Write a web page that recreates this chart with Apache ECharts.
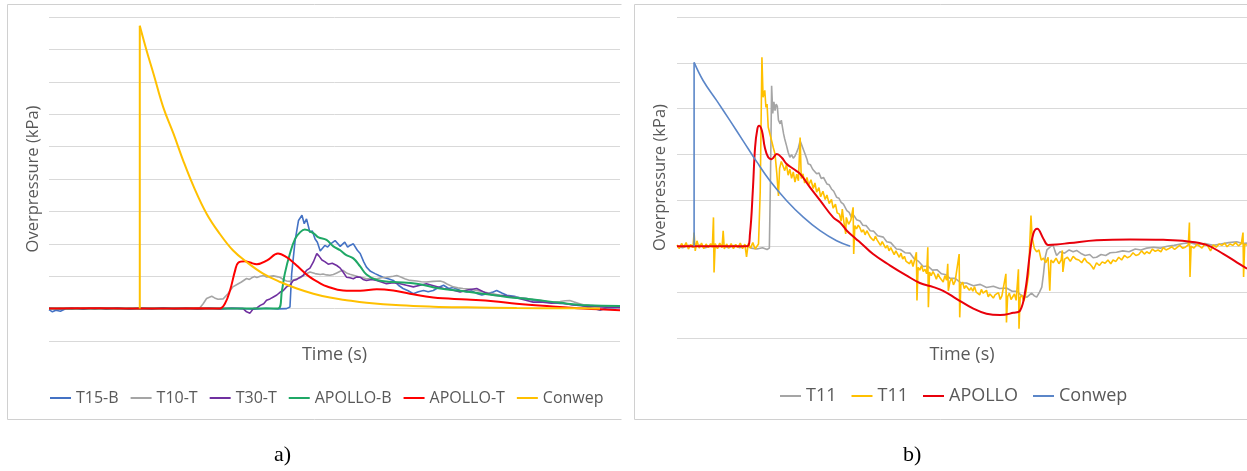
<!DOCTYPE html>
<html>
<head>
<meta charset="utf-8">
<title>Overpressure histories</title>
<script src="https://cdn.jsdelivr.net/npm/echarts@6/dist/echarts.min.js"></script>
<style>
  html, body { margin: 0; padding: 0; background: #ffffff; }
  #chart { width: 1247px; height: 471px; }
</style>
</head>
<body>
<div id="chart"></div>
<script>
// ---- Panel a): time [arbitrary units 0-100], overpressure [gridline units] ----
const t15B = [[0,-0.03],[0.6,-0.1],[1.2,-0.05],[2,-0.08],[3,0.0],[4,-0.02],[5,0.01],[6,-0.02],[7,0.02],[8,0.0],[9,0.02],[10,-0.01],[12,0.01],[14,-0.01],[16,0.01],[18,0.0],[20,0.02],[22,-0.01],[24,0.01],[26,-0.01],[28,0.01],[30,-0.01],[32,0.01],[34,0.0],[36,-0.02],[38,0.01],[40,-0.01],[41.6,0.0],[42.2,0.05],[42.5,1.08],[43.1,2.1],[43.7,2.72],[44.3,2.88],[44.7,2.62],[45.1,2.77],[45.7,2.35],[46.1,2.4],[46.6,2.15],[47.0,2.05],[47.5,1.78],[48.3,1.95],[48.8,1.9],[49.2,1.98],[50.1,2.1],[51.0,1.92],[51.8,2.05],[52.3,1.9],[52.7,1.95],[53.3,2.0],[54.0,1.8],[54.5,1.7],[55.1,1.45],[55.6,1.28],[56.3,1.15],[57.1,1.08],[57.8,1.02],[58.5,0.97],[59.4,0.92],[60.3,0.87],[61.2,0.72],[62.0,0.62],[62.9,0.55],[63.8,0.46],[64.7,0.52],[65.6,0.56],[66.4,0.52],[67.3,0.56],[68.2,0.65],[69.1,0.72],[70.0,0.62],[70.8,0.65],[72.0,0.56],[73.2,0.51],[74.0,0.55],[74.9,0.47],[75.8,0.42],[76.7,0.46],[77.6,0.5],[78.4,0.56],[79.3,0.48],[80.2,0.41],[81.5,0.38],[82.6,0.33],[83.7,0.31],[84.8,0.26],[86.0,0.23],[87.2,0.2],[88.4,0.18],[89.5,0.16],[90.6,0.15],[91.8,0.12],[93.0,0.12],[94.2,0.05],[95.4,0.0],[96.5,-0.05],[97.6,0.02],[98.8,0.03],[100,0.05]];

const t10T = [[0,0.0],[2,0.01],[4,-0.01],[6,0.01],[8,0.0],[10,0.01],[12,-0.01],[14,0.01],[16,0.0],[18,0.01],[20,-0.01],[22,0.01],[24,0.0],[26.4,0.02],[27.0,0.15],[27.6,0.31],[28.5,0.38],[29.0,0.33],[29.6,0.29],[30.5,0.3],[31.3,0.45],[32.2,0.67],[33.0,0.75],[33.7,0.82],[34.6,0.93],[35.1,0.9],[35.5,0.95],[36.0,0.99],[36.4,0.96],[37.0,1.0],[37.6,1.02],[38.1,0.97],[38.7,1.0],[39.3,1.01],[40.1,0.98],[40.5,0.96],[41.0,0.9],[41.6,0.85],[42.2,0.84],[42.8,0.88],[43.4,0.92],[44.0,0.95],[44.8,1.05],[45.7,1.13],[46.6,1.08],[47.5,1.05],[48.0,1.07],[48.6,1.04],[49.2,1.03],[49.8,1.05],[50.4,1.1],[51.0,1.15],[51.5,1.18],[52.1,1.1],[52.7,1.06],[53.3,1.03],[54.5,0.97],[55.0,0.95],[55.6,0.92],[56.5,0.93],[57.4,0.92],[58.2,0.95],[59.1,0.97],[60.3,1.0],[60.9,1.02],[61.5,0.98],[62.3,0.92],[63.2,0.87],[64.4,0.85],[65.2,0.83],[66.1,0.82],[67.3,0.84],[68.5,0.85],[69.1,0.82],[69.7,0.76],[70.8,0.67],[71.6,0.64],[72.5,0.62],[73.7,0.6],[74.9,0.56],[76.0,0.52],[77.0,0.48],[78.0,0.45],[79.0,0.41],[80.2,0.38],[81.3,0.36],[82.5,0.33],[83.7,0.31],[84.8,0.28],[86.0,0.26],[87.2,0.22],[88.3,0.2],[89.5,0.22],[90.4,0.24],[91.2,0.25],[92.0,0.2],[92.8,0.16],[93.6,0.12],[94.7,0.1],[95.6,0.09],[96.5,0.08],[97.4,0.07],[98.2,0.06],[99.1,0.05],[100,0.05]];

const t30T = [[0,0.01],[2,-0.01],[4,0.02],[6,-0.01],[8,0.01],[10,0.0],[12,0.02],[14,-0.01],[16,0.01],[18,-0.01],[20,0.02],[22,0.0],[24,0.01],[26,-0.01],[28,0.01],[30,0.0],[32,0.01],[34.0,0.0],[34.6,-0.1],[35.2,-0.14],[35.8,0.0],[36.4,0.02],[37.0,0.1],[37.6,0.15],[38.1,0.26],[38.7,0.3],[39.3,0.36],[39.9,0.42],[40.5,0.51],[41.0,0.55],[41.6,0.67],[42.2,0.72],[42.8,0.87],[43.4,0.9],[44.0,0.97],[44.5,1.02],[45.1,1.18],[45.7,1.25],[46.3,1.44],[46.9,1.7],[47.3,1.62],[47.8,1.5],[48.3,1.45],[48.9,1.37],[49.6,1.4],[50.4,1.33],[51.0,1.25],[51.5,1.13],[52.1,0.97],[52.7,0.95],[53.3,0.92],[53.9,0.98],[54.5,0.97],[55.0,0.9],[55.6,0.87],[56.5,0.9],[57.4,0.87],[58.2,0.82],[59.1,0.77],[60.3,0.8],[61.5,0.77],[62.6,0.72],[63.8,0.67],[65.0,0.72],[66.1,0.77],[67.5,0.7],[69.1,0.62],[70.5,0.58],[72.0,0.51],[73.5,0.58],[74.9,0.62],[76.3,0.5],[77.8,0.41],[79.5,0.4],[81.3,0.36],[83.0,0.28],[84.8,0.2],[86.5,0.2],[88.0,0.17],[89.5,0.18],[91.5,0.12],[93.6,0.08],[95.5,0.06],[97.8,0.04],[100,0.03]];

const apolloB = [[0,0],[10,0],[20,0],[30,0],[35,0],[40.1,0],[40.8,0.56],[41.3,1.08],[42.2,1.7],[43.1,2.15],[44.0,2.36],[44.8,2.44],[46.3,2.33],[47.2,2.2],[48.6,2.12],[49.8,1.92],[51.0,1.8],[52.0,1.66],[53.3,1.55],[54.5,1.3],[55.6,1.05],[57.4,0.88],[60.3,0.82],[64.4,0.77],[68.5,0.62],[72.0,0.55],[76.0,0.46],[80.2,0.36],[84.8,0.28],[89.5,0.18],[94.2,0.1],[100,0.08]];

const apolloT = [[0,0],[8.9,0.01],[17.5,0],[26.4,0.01],[29.9,0],[30.8,0.15],[31.7,0.56],[32.6,1.18],[33.1,1.41],[34.3,1.46],[35.2,1.42],[36.4,1.37],[38.2,1.49],[40.1,1.7],[41.6,1.59],[43.1,1.38],[44.0,1.23],[45.7,0.97],[47.5,0.78],[48.6,0.69],[51.5,0.56],[54.5,0.55],[57.4,0.6],[60.3,0.56],[63.2,0.46],[67.3,0.34],[73.2,0.28],[77.8,0.23],[81.9,0.15],[87.7,0.07],[93.6,0.0],[100,-0.05]];

// Conwep: instantaneous rise, then the decay branch
const conwepARise = [[15.9,0],[15.9,8.73]];
const conwepADecay = [[15.9,8.73],[17.1,7.96],[18.3,7.25],[20.0,6.22],[21.8,5.4],[23.5,4.57],[25.3,3.78],[27.6,2.93],[29.9,2.31],[32.2,1.8],[34.6,1.44],[37.5,1.08],[40.5,0.82],[43.4,0.62],[46.3,0.46],[49.2,0.34],[52.1,0.26],[55.6,0.18],[61.5,0.1],[67.3,0.06],[73.2,0.04],[81.9,0.02],[90.7,0.01],[96.5,0.0]];

// ---- Panel b): time [arbitrary units 0-100], overpressure [gridline units] ----
const t11GrayB = [[0,0.0],[1,-0.03],[2,0.02],[3,-0.02],[4,0.03],[5,-0.03],[6,0.02],[7,-0.02],[8,0.03],[9,-0.03],[10,0.02],[11,-0.03],[12,0.02],[13,-0.04],[14,-0.06],[15,-0.03],[15.8,-0.07],[16.2,-0.04],[16.4,1.5],[16.6,3.5],[16.8,2.9],[17.0,3.15],[17.2,2.96],[17.4,3.1],[17.6,3.05],[17.8,2.75],[18.1,2.67],[18.3,2.75],[18.5,2.6],[18.7,2.45],[18.9,2.34],[19.2,2.2],[19.5,2.05],[19.8,1.94],[20.1,2.0],[20.4,1.92],[20.7,1.97],[21.0,2.05],[21.3,2.15],[21.6,2.3],[21.9,2.2],[22.2,2.1],[22.5,2.0],[22.8,1.9],[23.0,1.8],[23.4,1.78],[23.8,1.68],[24.1,1.72],[24.5,1.58],[24.9,1.6],[25.3,1.48],[25.7,1.5],[26.3,1.36],[26.7,1.34],[27.1,1.25],[27.5,1.2],[28.0,1.07],[28.4,1.05],[28.8,0.96],[29.2,0.92],[29.8,0.78],[30.2,0.74],[30.6,0.63],[31.0,0.68],[31.5,0.58],[32.1,0.55],[32.6,0.46],[33.2,0.45],[33.9,0.34],[34.5,0.33],[35.2,0.23],[36.2,0.2],[36.8,0.1],[37.5,0.08],[38.5,-0.06],[39.2,-0.07],[40.0,-0.14],[40.9,-0.15],[41.6,-0.27],[42.4,-0.33],[43.2,-0.44],[44.0,-0.43],[44.8,-0.52],[45.6,-0.51],[46.4,-0.6],[47.2,-0.62],[47.9,-0.7],[48.8,-0.7],[49.8,-0.8],[50.8,-0.8],[52.0,-0.86],[53.2,-0.83],[54.3,-0.9],[55.5,-0.87],[56.6,-0.92],[57.8,-0.91],[58.8,-0.98],[59.6,-0.98],[60.5,-1.08],[61.4,-1.11],[62.2,-1.02],[62.7,-1.08],[63.1,-1.11],[63.6,-1.0],[64.0,-0.89],[64.3,-0.6],[64.6,-0.24],[64.9,-0.08],[65.1,-0.04],[65.6,0.0],[66.0,0.02],[66.3,-0.1],[66.6,-0.2],[67.2,-0.12],[68.0,-0.15],[68.8,-0.08],[69.5,-0.12],[70.1,-0.09],[70.8,-0.15],[71.6,-0.2],[72.4,-0.18],[73.0,-0.25],[73.6,-0.24],[74.4,-0.18],[75.2,-0.2],[76.0,-0.14],[77.1,-0.13],[78.2,-0.1],[79.3,-0.12],[80.4,-0.06],[81.4,-0.08],[82.4,-0.04],[83.6,-0.02],[84.8,-0.04],[86.0,0.0],[87.2,0.02],[88.8,0.06],[90.0,0.08],[91.2,0.04],[92.6,0.06],[94.1,0.02],[95.4,0.05],[96.8,0.08],[98.2,0.1],[99.2,0.06],[100,0.07]];

const t11YellowB = [[0,0.03],[0.4,-0.05],[0.8,0.06],[1.2,-0.02],[1.6,0.08],[2.0,-0.06],[2.4,0.04],[2.8,-0.03],[3.0,0.3],[3.2,-0.1],[3.5,0.12],[3.9,-0.04],[4.3,0.07],[4.7,-0.05],[5.1,0.05],[5.5,-0.03],[5.9,0.06],[6.2,-0.02],[6.4,0.63],[6.5,-0.57],[6.7,0.06],[7.1,-0.05],[7.5,0.07],[7.9,-0.03],[8.1,0.34],[8.3,-0.06],[8.7,0.05],[9.1,-0.04],[9.5,0.06],[9.9,-0.05],[10.3,0.04],[10.7,-0.03],[11.1,0.07],[11.5,-0.05],[11.9,0.05],[12.2,-0.23],[12.5,0.06],[12.9,-0.04],[13.3,0.08],[13.7,-0.06],[14.0,-0.1],[14.3,0.05],[14.6,1.2],[14.9,4.12],[15.1,3.25],[15.4,3.4],[15.6,3.03],[15.8,3.1],[16.0,2.6],[16.3,2.45],[16.6,2.3],[16.9,2.15],[17.2,2.01],[17.5,1.6],[17.8,1.1],[18.0,1.7],[18.3,1.85],[18.6,1.75],[18.9,1.65],[19.2,1.78],[19.5,1.55],[19.8,1.68],[20.1,1.48],[20.4,1.62],[20.7,1.4],[21.0,1.57],[21.3,1.43],[21.6,2.37],[21.8,1.48],[22.1,1.58],[22.4,1.38],[22.8,1.5],[23.1,1.33],[23.5,1.45],[23.9,1.26],[24.2,1.38],[24.5,1.18],[24.9,1.28],[25.2,1.08],[25.6,1.2],[26.0,1.02],[26.3,1.12],[26.7,0.93],[27.1,1.02],[27.4,0.83],[27.8,0.92],[28.1,0.73],[28.5,0.7],[28.8,0.55],[29.0,0.81],[29.2,0.6],[29.6,0.27],[29.7,0.63],[30.1,0.48],[30.5,0.57],[30.9,0.85],[31.0,-0.17],[31.2,0.45],[31.5,0.38],[31.8,0.46],[32.1,0.4],[32.4,0.31],[32.7,0.36],[33.0,0.25],[33.3,0.34],[33.6,0.3],[33.9,0.2],[34.2,0.24],[34.5,0.12],[34.8,0.22],[35.1,0.14],[35.4,0.18],[35.7,0.02],[36.0,0.1],[36.3,0.06],[36.6,-0.04],[36.9,0.02],[37.2,-0.1],[37.5,-0.03],[37.8,-0.07],[38.1,-0.18],[38.4,-0.1],[38.7,-0.14],[39.0,-0.24],[39.3,-0.15],[39.6,-0.28],[39.9,-0.22],[40.2,-0.33],[40.5,-0.3],[40.8,-0.38],[41.1,-0.3],[41.4,-0.44],[41.7,-0.4],[42.0,-0.13],[42.1,-1.18],[42.3,-0.46],[42.6,-0.52],[42.9,-0.42],[43.2,-0.55],[43.5,-0.5],[43.8,-0.6],[44.0,-0.02],[44.1,-1.33],[44.3,-0.56],[44.6,-0.64],[44.9,-0.55],[45.2,-0.62],[45.5,-0.72],[45.8,-0.6],[46.1,-0.68],[46.4,-0.66],[46.7,-0.78],[47.0,-0.64],[47.3,-0.74],[47.5,-0.38],[47.6,-0.97],[47.9,-0.76],[48.2,-0.7],[48.5,-0.84],[48.8,-0.76],[49.1,-0.8],[49.5,-0.17],[49.6,-1.55],[49.8,-0.84],[50.1,-0.78],[50.4,-0.92],[50.7,-0.86],[51.0,-0.82],[51.3,-0.96],[51.6,-0.9],[51.9,-0.98],[52.2,-0.88],[52.5,-1.0],[52.8,-0.96],[53.1,-1.06],[53.4,-0.94],[53.7,-1.02],[54.0,-1.05],[54.3,-0.96],[54.6,-1.1],[54.9,-1.04],[55.2,-1.0],[55.5,-1.13],[55.8,-1.06],[56.1,-1.1],[56.4,-1.01],[56.7,-1.16],[57.0,-1.08],[57.3,-1.12],[57.7,-0.6],[57.8,-1.66],[58.0,-1.1],[58.3,-1.02],[58.6,-1.16],[58.9,-1.1],[59.2,-1.04],[59.5,-1.18],[59.9,-0.5],[60.0,-1.8],[60.2,-1.12],[60.5,-1.06],[60.8,-1.2],[61.1,-1.1],[61.4,-1.14],[61.7,-0.6],[61.9,0.1],[62.1,0.67],[62.3,0.2],[62.7,-0.05],[63.1,-0.12],[63.5,-0.08],[63.9,-0.3],[64.3,-0.26],[64.7,-0.36],[65.1,-0.24],[65.4,-0.97],[65.6,-0.3],[66.0,-0.36],[66.5,-0.26],[67.0,-0.38],[67.4,-0.3],[67.6,-0.09],[67.7,-0.56],[68.0,-0.28],[68.5,-0.24],[69.0,-0.33],[69.5,-0.22],[70.0,-0.28],[70.5,-0.3],[71.0,-0.36],[71.5,-0.26],[71.9,-0.34],[72.4,-0.38],[72.8,-0.44],[73.1,-0.5],[73.6,-0.36],[74.1,-0.42],[74.6,-0.34],[75.1,-0.37],[75.6,-0.3],[76.1,-0.38],[76.5,-0.3],[77.0,-0.33],[77.5,-0.24],[78.0,-0.3],[78.5,-0.2],[79.0,-0.25],[79.5,-0.22],[80.0,-0.14],[80.5,-0.2],[81.0,-0.18],[81.5,-0.1],[82.0,-0.17],[82.4,-0.12],[82.9,-0.16],[83.4,-0.06],[83.9,-0.11],[84.4,-0.08],[84.9,-0.12],[85.3,-0.03],[85.8,-0.08],[86.3,-0.05],[86.8,-0.01],[87.3,-0.07],[87.8,-0.02],[88.2,0.02],[88.7,-0.04],[89.2,-0.02],[89.7,0.03],[89.9,0.52],[90.0,-0.67],[90.2,0.0],[90.7,-0.04],[91.2,0.04],[91.7,0.0],[92.1,-0.04],[92.6,0.05],[93.1,0.01],[93.6,-0.1],[94.1,0.03],[94.6,-0.02],[95.1,0.05],[95.6,0.02],[96.1,0.07],[96.5,-0.01],[97.0,0.05],[97.5,0.02],[98.0,0.08],[98.5,0.01],[99.0,0.06],[99.3,0.3],[99.4,-0.67],[99.6,0.05],[100,0.02]];

const apolloBPanel = [[0,0],[6,0],[12.3,0],[12.8,0.27],[13.3,1.21],[13.7,2.16],[14.1,2.56],[14.4,2.63],[14.9,2.52],[15.4,2.16],[16.0,1.94],[16.6,1.9],[17.5,2.01],[18.4,1.93],[19.2,1.8],[20.4,1.69],[21.6,1.58],[23.3,1.29],[25.1,1.0],[27.4,0.63],[28.6,0.52],[29.8,0.34],[31.5,0.15],[32.1,0.09],[34.4,-0.17],[37.4,-0.42],[40.3,-0.64],[42.6,-0.8],[45.0,-0.89],[46.7,-0.97],[49.1,-1.15],[52.0,-1.36],[54.3,-1.47],[56.7,-1.5],[59.0,-1.45],[60.2,-1.4],[61.1,-0.97],[61.9,-0.17],[62.5,0.27],[63.2,0.38],[64.3,0.16],[65.1,0.03],[66.6,0.04],[68.9,0.07],[73.6,0.13],[79.5,0.15],[85.3,0.14],[89.4,0.11],[92.9,0.03],[95.9,-0.17],[98.2,-0.35],[100,-0.49]];

const conwepBRise = [[3.0,0],[3.0,4.01]];
const conwepBDecay = [[3.0,4.01],[4.6,3.61],[7.0,3.17],[9.3,2.74],[11.6,2.3],[14.0,1.84],[16.3,1.43],[19.2,1.0],[22.2,0.63],[25.1,0.34],[28.0,0.12],[30.4,0.0]];

const legendA = ['T15-B', 'T10-T', 'T30-T', 'APOLLO-B', 'APOLLO-T', 'Conwep'];
// names in panel b carry a trailing space where they repeat another series name
const legendB = ['T11', 'T11 ', 'APOLLO', 'Conwep '];

const axisTitleTime = 'Time (s)';
const axisTitlePressure = 'Overpressure (kPa)';

const TEXT = '#595959';
const GRID = '#d9d9d9';
const FONT = '"Open Sans", "Noto Sans", sans-serif';

function line(name, data, color, xi, width, smooth) {
  return {
    name: name, type: 'line', data: data,
    xAxisIndex: xi, yAxisIndex: xi,
    showSymbol: false, symbol: 'none',
    smooth: smooth || false,
    lineStyle: { color: color, width: width },
    itemStyle: { color: color },
    emphasis: { disabled: true },
    silent: true
  };
}

function xAx(gridIndex, gap) {
  return {
    type: 'value', gridIndex: gridIndex, min: 0, max: 100,
    axisLine: { show: false }, axisTick: { show: false },
    axisLabel: { show: false }, splitLine: { show: false },
    name: axisTitleTime, nameLocation: 'middle', nameGap: gap,
    nameTextStyle: { color: TEXT, fontSize: 18, fontFamily: FONT }
  };
}

function yAx(gridIndex, min, max, gap) {
  return {
    type: 'value', gridIndex: gridIndex, min: min, max: max, interval: 1,
    axisLine: { show: false }, axisTick: { show: false },
    axisLabel: { show: false },
    splitLine: { show: true, lineStyle: { color: GRID, width: 1 } },
    name: axisTitlePressure, nameLocation: 'middle', nameGap: gap, nameRotate: 90,
    nameTextStyle: { color: TEXT, fontSize: 16.5, fontFamily: FONT }
  };
}

const option = {
  animation: false,
  backgroundColor: '#ffffff',
  grid: [
    { left: 49, right: 627, top: 17, bottom: 130, containLabel: false },
    { left: 677, right: 0, top: 17, bottom: 133, containLabel: false }
  ],
  xAxis: [xAx(0, 5), xAx(1, 8)],
  yAxis: [yAx(0, -1, 9, 7), yAx(1, -2, 5, 8)],
  legend: [
    {
      data: legendA, left: 50, top: 388, padding: 0,
      icon: 'rect', itemWidth: 21, itemHeight: 2, itemGap: 12,
      textStyle: { color: TEXT, fontSize: 16, fontFamily: FONT, lineHeight: 20 },
      selectedMode: false,
      formatter: n => n.trim()
    },
    {
      data: legendB, left: 780, top: 385, padding: 0,
      icon: 'rect', itemWidth: 21, itemHeight: 2, itemGap: 15,
      textStyle: { color: TEXT, fontSize: 18, fontFamily: FONT, lineHeight: 22 },
      selectedMode: false,
      formatter: n => n.trim()
    }
  ],
  series: [
    line('T15-B', t15B, '#4472C4', 0, 1.6),
    line('T10-T', t10T, '#A5A5A5', 0, 1.6),
    line('T30-T', t30T, '#7030A0', 0, 1.6),
    line('APOLLO-B', apolloB, '#1FA866', 0, 2, 0.4),
    line('APOLLO-T', apolloT, '#FF0000', 0, 2, 0.4),
    line('Conwep', conwepARise, '#FFC000', 0, 2),
    line('Conwep', conwepADecay, '#FFC000', 0, 2, 0.4),
    line('T11', t11GrayB, '#A5A5A5', 1, 1.6),
    line('T11 ', t11YellowB, '#FFC000', 1, 1.6),
    line('APOLLO', apolloBPanel, '#E8000B', 1, 2, 0.4),
    line('Conwep ', conwepBRise, '#5B86C8', 1, 1.6),
    line('Conwep ', conwepBDecay, '#5B86C8', 1, 1.6, 0.4)
  ],
  graphic: [
    { type: 'polyline', silent: true, shape: { points: [[621.5, 4.5], [7.5, 4.5], [7.5, 419.5], [621.5, 419.5]] },
      style: { stroke: '#d0d0d0', lineWidth: 1, fill: null } },
    { type: 'polyline', silent: true, shape: { points: [[1247, 4.5], [634.5, 4.5], [634.5, 419.5], [1247, 419.5]] },
      style: { stroke: '#d0d0d0', lineWidth: 1, fill: null } },
    { type: 'text', silent: true, left: 274, top: 444,
      style: { text: 'a)', font: '22px "Liberation Serif", "DejaVu Serif", serif', fill: '#000000' } },
    { type: 'text', silent: true, left: 903, top: 444,
      style: { text: 'b)', font: '22px "Liberation Serif", "DejaVu Serif", serif', fill: '#000000' } }
  ]
};

const chart = echarts.init(document.getElementById('chart'), null, { renderer: 'canvas' });
chart.setOption(option);
</script>
</body>
</html>
